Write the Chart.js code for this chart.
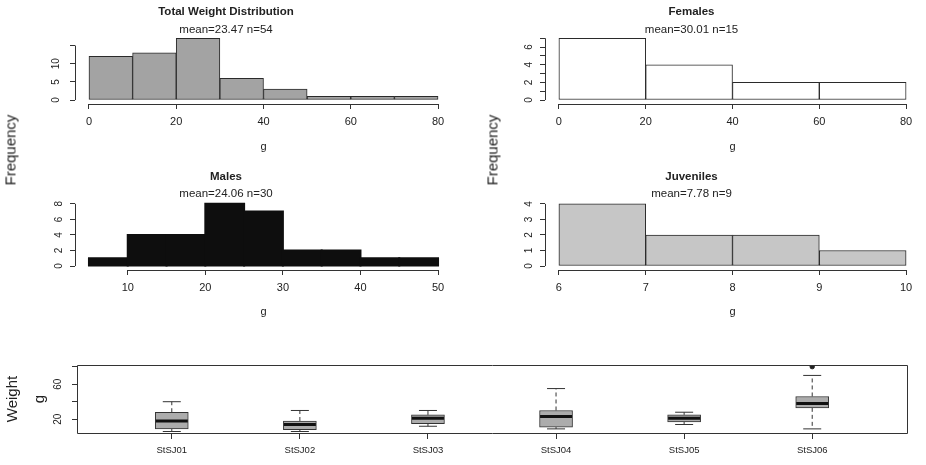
<!DOCTYPE html>
<html lang="en">
<head>
<meta charset="UTF-8">
<title>Weight distributions</title>
<script src="https://cdn.jsdelivr.net/npm/chart.js"></script>
<style>
  body { margin: 0; background: #fff; }
  #wrap { position: relative; width: 926px; height: 465px; overflow: hidden; font-family: "Liberation Sans", Arial, sans-serif; color: #222; }
  canvas { position: absolute; }
  .ylab { position: absolute; font-size: 15px; white-space: nowrap; transform: translate(-50%, -50%) rotate(-90deg); }
</style>
</head>
<body>
<div id="wrap">
  <canvas id="cTotal" width="463" height="155" style="left:0;top:0"></canvas>
  <canvas id="cFemales" width="463" height="155" style="left:463px;top:0"></canvas>
  <canvas id="cMales" width="463" height="165" style="left:0;top:155px"></canvas>
  <canvas id="cJuveniles" width="463" height="165" style="left:463px;top:155px"></canvas>
  <canvas id="cBox" width="926" height="145" style="left:0;top:320px"></canvas>
  <div class="ylab" style="left:10px;top:150px">Frequency</div>
  <div class="ylab" style="left:492px;top:150px">Frequency</div>
</div>
<script>
// histogram bins (edges) and counts
const totalEdges = [0, 10, 20, 30, 40, 50, 60, 70, 80];
const totalCounts = [12, 13, 17, 6, 3, 1, 1, 1];
const femalesEdges = [0, 20, 40, 60, 80];
const femalesCounts = [7, 4, 2, 2];
const malesEdges = [5, 10, 15, 20, 25, 30, 35, 40, 45, 50];
const malesCounts = [1, 4, 4, 8, 7, 2, 2, 1, 1];
const juvEdges = [6, 7, 8, 9, 10];
const juvCounts = [4, 2, 2, 1];

// tick values and labels
const totalXTicks = [0, 20, 40, 60, 80];
const totalYTicks = [0, 5, 10, 15];
const totalYLabels = ['0', '5', '10', ''];
const femalesXTicks = [0, 20, 40, 60, 80];
const femalesYTicks = [0, 1, 2, 3, 4, 5, 6, 7];
const femalesYLabels = ['0', '', '2', '', '4', '', '6', ''];
const malesXTicks = [10, 20, 30, 40, 50];
const malesYTicks = [0, 2, 4, 6, 8];
const malesYLabels = ['0', '2', '4', '6', '8'];
const juvXTicks = [6, 7, 8, 9, 10];
const juvYTicks = [0, 1, 2, 3, 4];
const juvYLabels = ['0', '1', '2', '3', '4'];

// boxplot per site
const sites = ['StSJ01', 'StSJ02', 'StSJ03', 'StSJ04', 'StSJ05', 'StSJ06'];
const whiskLow = [6, 6, 12, 9, 14, 9];
const q1 = [9, 8, 15, 11, 17, 33];
const medians = [18, 14, 21, 23, 21, 38];
const q3 = [28, 18, 25, 30, 25, 46];
const whiskHigh = [40, 30, 30, 55, 28, 70];
const outlierSites = ['StSJ06'];
const outlierValues = [80];
const boxYTicks = [20, 40, 60, 80];
const boxYLabels = ['20', '', '60', ''];

const FONT = '"Liberation Sans", Arial, sans-serif';
const INK = '#222';
const AXIS = '#333';

// R-like axis line: only from first to last tick (plus optional frame)
const rAxis = {
  id: 'rAxis',
  afterDraw(chart, args, opts) {
    const { ctx, chartArea: a } = chart;
    ctx.save();
    ctx.strokeStyle = AXIS;
    ctx.lineWidth = 1;
    ctx.beginPath();
    if (opts.frame) {
      ctx.rect(Math.round(a.left) + 0.5, Math.round(a.top) + 0.5, Math.round(a.right - a.left), Math.round(a.bottom - a.top));
    }
    for (const s of Object.values(chart.scales)) {
      if (opts.frame && s.isHorizontal()) continue;
      const t = s.ticks;
      const p0 = s.getPixelForValue(t[0].value);
      const p1 = s.getPixelForValue(t[t.length - 1].value);
      if (s.isHorizontal()) {
        const y = Math.round(s.top) + 0.5;
        ctx.moveTo(p0, y); ctx.lineTo(p1, y);
      } else {
        const x = Math.round(s.right) + 0.5;
        ctx.moveTo(x, p0); ctx.lineTo(x, p1);
      }
    }
    ctx.stroke();
    ctx.restore();
  }
};

function titles(main, sub, padTop, gap) {
  return {
    title: { display: true, text: main, color: INK, font: { family: FONT, size: 11.5, weight: 'bold', lineHeight: 1.2 }, padding: { top: padTop, bottom: gap } },
    subtitle: { display: true, text: sub, color: INK, font: { family: FONT, size: 11.5, lineHeight: 1.2 }, padding: { top: 0, bottom: 0 } },
    legend: { display: false },
    tooltip: { enabled: false }
  };
}

function histogram(id, c) {
  const centers = c.edges.slice(0, -1).map((e, i) => (e + c.edges[i + 1]) / 2);
  new Chart(document.getElementById(id), {
    type: 'bar',
    data: {
      datasets: [{
        data: centers.map((x, i) => ({ x: x, y: c.counts[i] })),
        backgroundColor: c.fill,
        borderColor: c.line,
        borderWidth: c.solid ? 0 : 1,
        borderSkipped: false,
        inflateAmount: c.solid ? 1 : 'auto',
        barPercentage: 1,
        categoryPercentage: 1
      }]
    },
    options: {
      responsive: false,
      animation: false,
      events: [],
      layout: { padding: { right: c.padRight } },
      plugins: titles(c.title, c.sub, c.padTop, c.gap),
      scales: {
        x: {
          type: 'linear', min: c.xMin, max: c.xMax, offset: false, bounds: 'data',
          afterBuildTicks: s => { s.ticks = c.xTicks.map(v => ({ value: v })); },
          afterFit: s => { s.height = c.xHeight; },
          grid: { drawOnChartArea: false, drawTicks: true, tickLength: 5, color: AXIS, offset: false },
          border: { display: false },
          ticks: { color: INK, font: { family: FONT, size: 11 }, padding: 6, autoSkip: false, maxRotation: 0 },
          title: { display: true, text: 'g', color: INK, font: { family: FONT, size: 11 }, padding: { top: 0, bottom: 1 } }
        },
        y: {
          type: 'linear', min: c.yMin, max: c.yMax, bounds: 'data',
          afterBuildTicks: s => { s.ticks = c.yTicks.map(v => ({ value: v })); },
          afterFit: s => { s.width = c.yWidth; },
          grid: { drawOnChartArea: false, drawTicks: true, tickLength: 5, color: AXIS },
          border: { display: false },
          ticks: { color: INK, font: { family: FONT, size: 10 }, padding: 8, minRotation: 90, maxRotation: 90, crossAlign: 'center', autoSkip: false, callback: (v, i) => c.yLabels[i] }
        }
      }
    },
    plugins: [rAxis]
  });
}

histogram('cTotal', {
  edges: totalEdges, counts: totalCounts, fill: '#a3a3a3', line: '#2a2a2a',
  title: 'Total Weight Distribution', sub: 'mean=23.47 n=54', padTop: 5.1, gap: 4.5,
  xMin: -3.2, xMax: 83.2, xTicks: totalXTicks, xHeight: 51, padRight: 11,
  yMin: -1.09, yMax: 17.3, yTicks: totalYTicks, yLabels: totalYLabels, yWidth: 75
});
histogram('cFemales', {
  edges: femalesEdges, counts: femalesCounts, fill: '#ffffff', line: '#2a2a2a',
  title: 'Females', sub: 'mean=30.01 n=15', padTop: 5.1, gap: 4.5,
  xMin: -3.2, xMax: 83.2, xTicks: femalesXTicks, xHeight: 51, padRight: 6,
  yMin: -0.45, yMax: 7.12, yTicks: femalesYTicks, yLabels: femalesYLabels, yWidth: 82
});
histogram('cMales', {
  edges: malesEdges, counts: malesCounts, fill: '#0e0e0e', line: '#0e0e0e', solid: true,
  title: 'Males', sub: 'mean=24.06 n=30', padTop: 14.8, gap: 3.1,
  xMin: 3.2, xMax: 51.8, xTicks: malesXTicks, xHeight: 50, padRight: 11,
  yMin: -0.51, yMax: 8.43, yTicks: malesYTicks, yLabels: malesYLabels, yWidth: 75
});
histogram('cJuveniles', {
  edges: juvEdges, counts: juvCounts, fill: '#c6c6c6', line: '#2a2a2a',
  title: 'Juveniles', sub: 'mean=7.78 n=9', padTop: 14.8, gap: 3.1,
  xMin: 5.84, xMax: 10.16, xTicks: juvXTicks, xHeight: 50, padRight: 6,
  yMin: -0.255, yMax: 4.22, yTicks: juvYTicks, yLabels: juvYLabels, yWidth: 82
});

// boxplot
const pos = sites.map((s, i) => i + 1);
const whiskers = [];
pos.forEach((x, i) => {
  whiskers.push({ x: x, y: q3[i] }, { x: x, y: whiskHigh[i] }, { x: x, y: null });
  whiskers.push({ x: x, y: q1[i] }, { x: x, y: whiskLow[i] }, { x: x, y: null });
});
const caps = [];
pos.forEach((x, i) => { caps.push({ x: x, y: whiskHigh[i] }, { x: x, y: whiskLow[i] }); });

new Chart(document.getElementById('cBox'), {
  type: 'bar',
  data: {
    datasets: [
      { type: 'scatter', order: 0, data: outlierSites.map((s, i) => ({ x: sites.indexOf(s) + 1, y: outlierValues[i] })),
        pointRadius: 2.2, pointBackgroundColor: INK, pointBorderColor: INK },
      { type: 'scatter', order: 1, data: pos.map((x, i) => ({ x: x, y: medians[i] })),
        pointStyle: 'line', pointRadius: 16, pointBorderWidth: 3, pointBorderColor: '#111', borderColor: '#111' },
      { type: 'scatter', order: 2, data: caps,
        pointStyle: 'line', pointRadius: 9, pointBorderWidth: 1, pointBorderColor: AXIS, borderColor: AXIS },
      { type: 'bar', order: 3, data: pos.map((x, i) => ({ x: x, y: [q1[i], q3[i]] })),
        barThickness: 33, backgroundColor: '#acacac', borderColor: AXIS, borderWidth: 1, borderSkipped: false },
      { type: 'line', order: 4, data: whiskers, borderColor: AXIS, borderWidth: 1, borderDash: [4, 3],
        pointRadius: 0, spanGaps: false }
    ]
  },
  options: {
    responsive: false,
    animation: false,
    events: [],
    layout: { padding: { top: 45, right: 6 } },
    plugins: { legend: { display: false }, tooltip: { enabled: false }, rAxis: { frame: true } },
    scales: {
      x: {
        type: 'linear', min: 0.26, max: 6.74, offset: false, bounds: 'data',
        afterBuildTicks: s => { s.ticks = pos.map(v => ({ value: v })); },
        afterFit: s => { s.height = 32; },
        grid: { drawOnChartArea: false, drawTicks: true, tickLength: 6, color: AXIS, offset: false },
        border: { display: false },
        ticks: { color: INK, font: { family: FONT, size: 9.5 }, padding: 6, autoSkip: false, maxRotation: 0, callback: (v, i) => sites[i] }
      },
      y: {
        type: 'linear', min: 4.3, max: 81.9, bounds: 'data',
        afterBuildTicks: s => { s.ticks = boxYTicks.map(v => ({ value: v })); },
        afterFit: s => { s.width = 77; },
        grid: { drawOnChartArea: false, drawTicks: true, tickLength: 5, color: AXIS },
        border: { display: false },
        ticks: { color: INK, font: { family: FONT, size: 10 }, padding: 8, minRotation: 90, maxRotation: 90, crossAlign: 'center', autoSkip: false, callback: (v, i) => boxYLabels[i] },
        title: { display: true, text: ['Weight', 'g'], color: INK, font: { family: FONT, size: 15, lineHeight: 1.75 }, padding: { top: 0, bottom: 0 } }
      }
    }
  },
  plugins: [rAxis]
});
</script>
</body>
</html>
